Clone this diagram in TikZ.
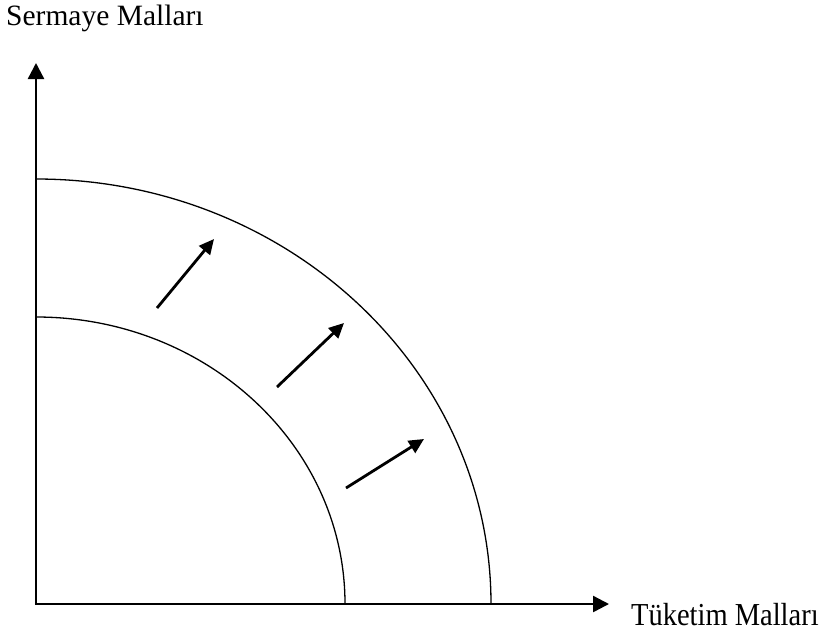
\documentclass[tikz,border=0pt]{standalone}
\usepackage{fontspec}
\setmainfont{Liberation Serif}
\usetikzlibrary{arrows.meta}
\begin{document}
\begin{tikzpicture}[x=1pt,y=-1pt,
  axis/.style={line width=2.4pt,-{Triangle[length=16pt,width=16pt]}},
  shiftarrow/.style={line width=2.8pt,-{Triangle[length=15pt,width=14pt]}},
  ppf/.style={line width=1.3pt},
  lbl/.style={inner sep=0pt,anchor=base west}]
\useasboundingbox (0,0) rectangle (824,635);
\coordinate (O) at (36,604);
\coordinate (ytip) at (36,63);
\coordinate (xtip) at (609,604);
\coordinate (yo) at (36,179);
\coordinate (yi) at (36,317);
\draw[axis] (O) -- (ytip);
\draw[axis] ([xshift=-1.2pt]O) -- (xtip);
\draw[ppf] (yo) arc[start angle=90,end angle=0,x radius=455pt,y radius=425pt];
\draw[ppf] (yi) arc[start angle=90,end angle=0,x radius=309pt,y radius=287pt];
\coordinate (a1) at (157,308); \coordinate (b1) at (214,239);
\coordinate (a2) at (277,387); \coordinate (b2) at (344,323);
\coordinate (a3) at (346,488); \coordinate (b3) at (424,439);
\draw[shiftarrow] (a1) -- (b1);
\draw[shiftarrow] (a2) -- (b2);
\draw[shiftarrow] (a3) -- (b3);
\node[lbl,font=\fontsize{29.5}{31}\selectfont] (ylab) at (6,25) {Sermaye Malları};
\node[lbl,font=\fontsize{32}{34}\selectfont,xscale=0.89] (xlab) at (631,625) {Tüketim Malları};
\end{tikzpicture}
\end{document}
